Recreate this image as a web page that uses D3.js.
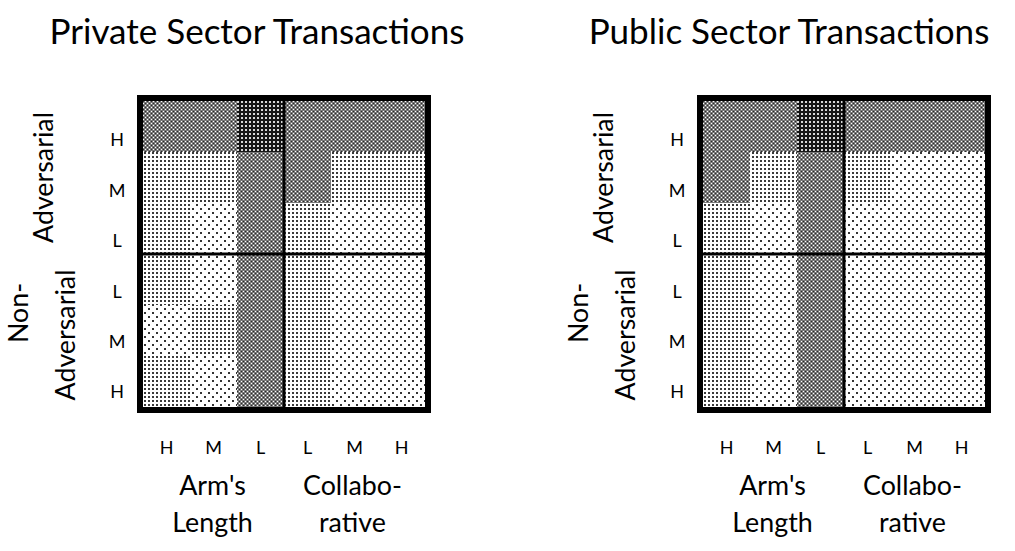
<!DOCTYPE html>
<html><head><meta charset="utf-8">
<script src="https://cdn.jsdelivr.net/npm/d3@7"></script>
<style>html,body{margin:0;padding:0;background:#fff;}text{font-family:Lato,"Open Sans",sans-serif;fill:#000;}</style>
</head><body>
<svg id="chart" width="1015" height="551"></svg>
<script>
// ---- data ----
const titles = ["Private Sector Transactions", "Public Sector Transactions"];
const rowLabels = ["H", "M", "L", "L", "M", "H"];   // top: Adversarial H M L, bottom: Non-Adversarial L M H
const colLabels = ["H", "M", "L", "L", "M", "H"];   // Arm's Length H M L | Collaborative L M H
const rowGroups = [["Adversarial"], ["Non-", "Adversarial"]];
const colGroups = [["Arm's", "Length"], ["Collabo-", "rative"]];
// intensity level 1 (sparse dots) .. 4 (darkest)
const privateValues = [
  [3, 3, 4, 3, 3, 3],
  [2, 2, 3, 3, 2, 2],
  [2, 1, 3, 2, 1, 1],
  [2, 1, 3, 2, 1, 1],
  [1, 2, 3, 2, 1, 1],
  [2, 1, 3, 2, 1, 1]
];
const publicValues = [
  [3, 3, 4, 3, 3, 3],
  [3, 2, 3, 2, 1, 1],
  [2, 1, 3, 1, 1, 1],
  [2, 1, 3, 1, 1, 1],
  [2, 1, 3, 1, 1, 1],
  [2, 1, 3, 1, 1, 1]
];

const svg = d3.select("#chart");
const defs = svg.append("defs");

// pattern fills for the 4 levels
function makePattern(id, w, h, bg, dots) {
  const p = defs.append("pattern").attr("id", id).attr("patternUnits", "userSpaceOnUse")
    .attr("width", w).attr("height", h);
  p.append("rect").attr("width", w).attr("height", h).attr("fill", bg);
  dots.forEach(d => p.append("rect").attr("x", d[0]).attr("y", d[1]).attr("width", d[2]).attr("height", d[3]).attr("fill", d[4]));
}
makePattern("lvl1", 8, 8, "#fff", [[0,0,2,2,"#333"],[4,4,2,2,"#333"]]);
makePattern("lvl2", 4, 4, "#fff", [[0,0,2,2,"#3a3a3a"]]);
makePattern("lvl3", 4, 4, "#7a7a7a", [[1,1,1,1,"#fff"],[3,3,1,1,"#fff"],[1,3,1,1,"#2a2a2a"],[3,1,1,1,"#2a2a2a"]]);
makePattern("lvl4", 4, 4, "#161616", [[1,1,2,2,"#d8d8d8"]]);
const fillFor = v => `url(#lvl${v})`;

const panels = [
  { values: privateValues, title: titles[0], x0: 143, titleX: 257 },
  { values: publicValues,  title: titles[1], x0: 703, titleX: 789 }
];
const W = 282, y0 = 101, H = 306;

panels.forEach((pn, pi) => {
  const g = svg.append("g");
  const x = d3.scaleBand().domain(d3.range(6)).range([pn.x0, pn.x0 + W]);
  const y = d3.scaleBand().domain(d3.range(6)).range([y0, y0 + H]);
  const cells = pn.values.flatMap((row, r) => row.map((v, c) => ({ r, c, v })));
  g.selectAll("rect.cell").data(cells).join("rect").attr("class", "cell")
    .attr("x", d => x(d.c)).attr("y", d => y(d.r))
    .attr("width", x.bandwidth() + 0.5).attr("height", y.bandwidth() + 0.5)
    .attr("fill", d => fillFor(d.v));
  // dividers
  g.append("line").attr("x1", x(3)).attr("x2", x(3)).attr("y1", y0).attr("y2", y0 + H)
    .attr("stroke", "#000").attr("stroke-width", 3);
  g.append("line").attr("x1", pn.x0).attr("x2", pn.x0 + W).attr("y1", y(3)).attr("y2", y(3))
    .attr("stroke", "#000").attr("stroke-width", 3);
  // frame
  g.append("rect").attr("x", pn.x0 - 3).attr("y", y0 - 3).attr("width", W + 6).attr("height", H + 6)
    .attr("fill", "none").attr("stroke", "#000").attr("stroke-width", 6);

  // row tick labels
  const yl = d3.scalePoint().domain(d3.range(6)).range([y0 + 39, y0 + 291]);
  g.selectAll("text.rt").data(rowLabels).join("text").attr("class", "rt")
    .attr("x", pn.x0 - 26).attr("y", (d, i) => yl(i)).attr("dy", "0.35em")
    .attr("text-anchor", "middle").style("font-size", "18px").text(d => d);
  // column tick labels
  g.selectAll("text.ct").data(colLabels).join("text").attr("class", "ct")
    .attr("x", (d, i) => x(i) + x.bandwidth() / 2).attr("y", 454)
    .attr("text-anchor", "middle").style("font-size", "18px").text(d => d);
  // column group labels
  colGroups.forEach((lines, gi) => {
    const cx = (x(gi * 3) + x(gi * 3 + 2) + x.bandwidth()) / 2 - (gi === 0 ? 1 : 2);
    lines.forEach((t, li) => {
      g.append("text").attr("class", "axl").attr("x", cx).attr("y", 495 + li * 37)
        .attr("text-anchor", "middle").text(t);
    });
  });
  // row group labels (rotated)
  const off = pn.x0 - 143;
  g.append("text").attr("class", "axl").attr("text-anchor", "middle")
    .attr("transform", `translate(${53 + off},${(y(0) + y(2) + y.bandwidth()) / 2}) rotate(-90)`)
    .text(rowGroups[0][0]);
  g.append("text").attr("class", "axl").attr("text-anchor", "middle")
    .attr("transform", `translate(${28 + off},313) rotate(-90)`).text(rowGroups[1][0]);
  g.append("text").attr("class", "axl").attr("text-anchor", "middle")
    .attr("transform", `translate(${75 + off},335) rotate(-90)`).text(rowGroups[1][1]);
  // title
  g.append("text").attr("class", "ttl").attr("x", pn.titleX).attr("y", 44)
    .attr("text-anchor", "middle").text(pn.title);
});

// fit font sizes to the reference text widths
function fitSize(sel, sample, target) {
  sel.style("font-size", "20px");
  const w = sample.getComputedTextLength();
  sel.style("font-size", (20 * target / w).toFixed(2) + "px");
}
const axl = svg.selectAll("text.axl");
fitSize(axl, axl.filter(function () { return this.textContent === "Adversarial"; }).node(), 131);
const ttl = svg.selectAll("text.ttl");
fitSize(ttl, ttl.node(), 415);
</script>
</body></html>
